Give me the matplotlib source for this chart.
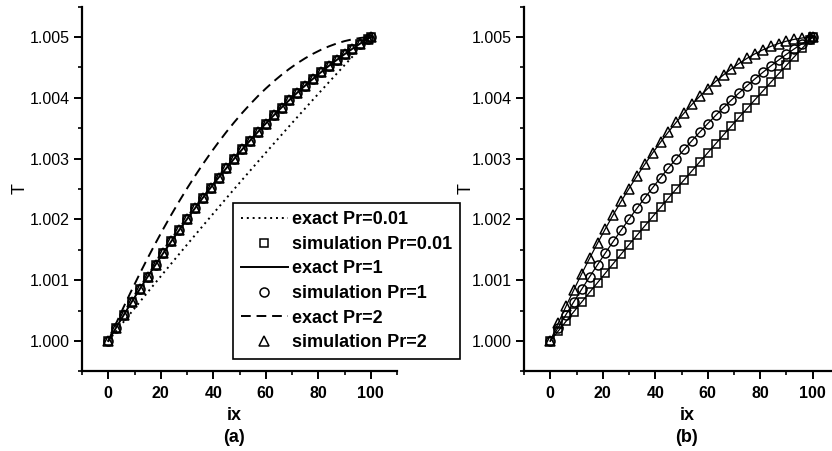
import matplotlib
matplotlib.use('Agg')
import matplotlib.pyplot as plt
from matplotlib.ticker import MultipleLocator, FormatStrFormatter

plt.rcParams['font.family'] = ['Liberation Sans', 'DejaVu Sans']

# ---------------- data ----------------
IX = [0, 3, 6, 9, 12, 15, 18, 21, 24, 27, 30, 33, 36, 39, 42, 45, 48, 51,
      54, 57, 60, 63, 66, 69, 72, 75, 78, 81, 84, 87, 90, 93, 96, 99, 100]

T_PR001 = [1.000000, 1.000162, 1.000323, 1.000483, 1.000642, 1.000801, 1.000959,
           1.001116, 1.001273, 1.001429, 1.001584, 1.001738, 1.001892, 1.002045,
           1.002197, 1.002349, 1.002500, 1.002650, 1.002799, 1.002948, 1.003096,
           1.003243, 1.003390, 1.003536, 1.003681, 1.003825, 1.003969, 1.004112,
           1.004254, 1.004395, 1.004536, 1.004676, 1.004815, 1.004954, 1.005000]

T_PR1 = [1.000000, 1.000220, 1.000435, 1.000647, 1.000853, 1.001056, 1.001254,
         1.001448, 1.001638, 1.001823, 1.002004, 1.002181, 1.002353, 1.002521,
         1.002685, 1.002844, 1.002999, 1.003150, 1.003296, 1.003438, 1.003576,
         1.003709, 1.003839, 1.003963, 1.004084, 1.004200, 1.004312, 1.004419,
         1.004523, 1.004621, 1.004716, 1.004806, 1.004892, 1.004974, 1.005000]

T_PR2 = [1.000000, 1.000290, 1.000571, 1.000843, 1.001107, 1.001362, 1.001608,
         1.001846, 1.002076, 1.002296, 1.002508, 1.002711, 1.002906, 1.003092,
         1.003269, 1.003438, 1.003598, 1.003750, 1.003892, 1.004027, 1.004152,
         1.004269, 1.004377, 1.004477, 1.004568, 1.004650, 1.004724, 1.004789,
         1.004845, 1.004893, 1.004932, 1.004962, 1.004984, 1.004998, 1.005000]

# panel (a): simulation points all fall on the Pr=1 curve
SIM_A_PR001 = T_PR1
SIM_A_PR1 = T_PR1
SIM_A_PR2 = T_PR1

X_TICKS = [0, 20, 40, 60, 80, 100]
Y_TICKS = [1.000, 1.001, 1.002, 1.003, 1.004, 1.005]
LABELS = ['exact Pr=0.01', 'simulation Pr=0.01', 'exact Pr=1',
          'simulation Pr=1', 'exact Pr=2', 'simulation Pr=2']

# ---------------- figure ----------------
W, H = 832, 451
fig = plt.figure(figsize=(W / 100, H / 100), dpi=100)


def rect(l, r, t, b):
    return [l / W, 1 - b / H, (r - l) / W, (b - t) / H]


axb = fig.add_axes(rect(524, 839, 6.6, 371.4))
axa = fig.add_axes(rect(82, 397, 6.6, 371.4))

for ax in (axa, axb):
    ax.set_xlim(-10, 110)
    ax.set_ylim(0.9995, 1.0055)
    for s in ('top', 'right'):
        ax.spines[s].set_visible(False)
    for s in ('left', 'bottom'):
        ax.spines[s].set_linewidth(1.6)
    ax.set_xticks(X_TICKS)
    ax.set_yticks(Y_TICKS)
    ax.xaxis.set_minor_locator(MultipleLocator(10))
    ax.yaxis.set_minor_locator(MultipleLocator(0.0005))
    ax.yaxis.set_major_formatter(FormatStrFormatter('%.3f'))
    ax.tick_params(which='major', direction='out', length=5.5, width=1.4)
    ax.tick_params(which='minor', direction='out', length=3, width=1.2)
    ax.tick_params(axis='x', which='major', pad=5)
    for lab in ax.get_xticklabels():
        lab.set_fontsize(11.5)
        lab.set_fontweight('bold')
    for lab in ax.get_yticklabels():
        lab.set_fontsize(11.5)
    ax.set_ylabel('T', fontsize=13)

axa.yaxis.set_label_coords(-0.168, 0.5)
axb.yaxis.set_label_coords(-0.157, 0.5)

mk = dict(ls='none', mfc='none', mec='k', ms=6.5, mew=1.1)

# panel (a)
axa.plot(IX, T_PR001, color='k', ls=(0, (1, 2)), lw=1.4, label=LABELS[0])
axa.plot(IX, SIM_A_PR001, marker='s', label=LABELS[1],
         **{**mk, 'ms': 5.5})
axa.plot(IX, T_PR1, color='k', ls='-', lw=1.4, label=LABELS[2])
axa.plot(IX, SIM_A_PR1, marker='o', label=LABELS[3], **mk)
axa.plot(IX, T_PR2, color='k', ls=(0, (5, 3)), lw=1.4, label=LABELS[4])
axa.plot(IX, SIM_A_PR2, marker='^', label=LABELS[5], **mk)

leg = axa.legend(loc='lower left', bbox_to_anchor=(0.479, 0.033),
                 borderaxespad=0, frameon=True, fancybox=False,
                 edgecolor='k', framealpha=1,
                 prop={'weight': 'bold', 'size': 13},
                 handlelength=2.6, handletextpad=0.2, labelspacing=0.42,
                 borderpad=0.45)
leg.get_frame().set_linewidth(1.2)

# panel (b)
axb.plot(IX, T_PR001, color='k', lw=0.9, marker='s', mfc='none', mec='k',
         ms=6, mew=1.1)
axb.plot(IX, T_PR1, color='k', lw=0.9, marker='o', mfc='none', mec='k',
         ms=6.5, mew=1.1)
axb.plot(IX, T_PR2, color='k', lw=0.9, marker='^', mfc='none', mec='k',
         ms=6.5, mew=1.1)

# axis titles and panel labels
for xc, tag in ((234, '(a)'), (687, '(b)')):
    fig.text(xc / W, 1 - 415 / H, 'ix', ha='center', va='center',
             fontsize=13, fontweight='bold')
    fig.text(xc / W, 1 - 438 / H, tag, ha='center', va='center',
             fontsize=13, fontweight='bold')

fig.savefig('out.png', dpi=100)
